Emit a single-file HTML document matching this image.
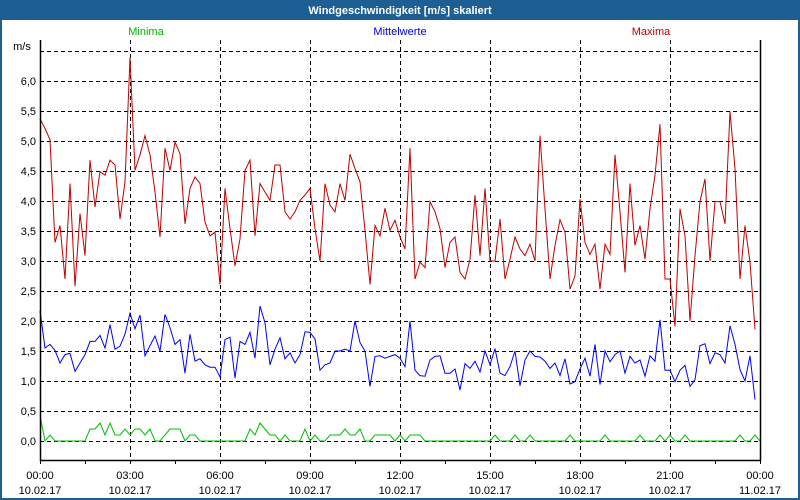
<!DOCTYPE html>
<html><head><meta charset="utf-8"><style>
body{margin:0;background:#fff}
svg{display:block;font-family:"Liberation Sans","DejaVu Sans",sans-serif}
</style></head><body>
<svg id="chart" width="800" height="500" viewBox="0 0 800 500">
<rect x="0" y="0" width="800" height="500" fill="#fff"/>
<rect x="0" y="0" width="800" height="20" fill="#1d5e93"/>
<rect x="1" y="1" width="798" height="498" fill="none" stroke="#1d5e93" stroke-width="2"/>
<text x="400" y="14" text-anchor="middle" fill="#fff" font-size="11" font-weight="bold">Windgeschwindigkeit [m/s] skaliert</text>
<text x="146" y="35" text-anchor="middle" fill="#00b000" font-size="11">Minima</text>
<text x="400" y="35" text-anchor="middle" fill="#0000e0" font-size="11">Mittelwerte</text>
<text x="651" y="35" text-anchor="middle" fill="#c00000" font-size="11">Maxima</text>
<text x="22" y="50" text-anchor="middle" fill="#000" font-size="11">m/s</text>
<g id="grid"></g>
<g id="series"></g>
<g id="axes"></g>
</svg>
<script>
const yTicks=[0,0.5,1,1.5,2,2.5,3,3.5,4,4.5,5,5.5,6,6.5];
const yTickLabels=["0,0","0,5","1,0","1,5","2,0","2,5","3,0","3,5","4,0","4,5","5,0","5,5","6,0",""];
const xTickHours=[0,3,6,9,12,15,18,21,24];
const xTickTimes=["00:00","03:00","06:00","09:00","12:00","15:00","18:00","21:00","00:00"];
const xTickDates=["10.02.17","10.02.17","10.02.17","10.02.17","10.02.17","10.02.17","10.02.17","10.02.17","11.02.17"];
const stepMinutes=10;
const maxima=[5.37,5.21,5.02,3.31,3.59,2.70,4.29,2.58,3.79,3.09,4.68,3.90,4.49,4.43,4.68,4.60,3.70,4.32,6.39,4.51,4.77,5.09,4.77,4.15,3.40,4.88,4.51,4.98,4.79,3.62,4.21,4.40,4.29,3.65,3.42,3.48,2.61,
4.21,3.54,2.92,3.37,4.51,4.68,3.42,4.29,4.15,4.01,4.60,4.60,3.82,3.70,3.82,4.01,4.10,4.21,3.54,3.00,4.29,3.93,3.82,4.29,4.01,4.78,4.54,4.32,3.51,2.61,3.59,3.42,3.88,3.51,3.68,3.40,
3.20,4.88,2.70,2.98,2.89,3.99,3.82,3.54,2.89,3.31,3.40,2.81,2.70,3.03,4.10,3.09,4.21,3.00,3.00,3.70,2.70,3.03,3.40,3.20,3.09,3.28,3.00,5.09,3.87,2.70,3.26,3.69,3.48,2.53,2.75,4.03,
3.31,3.11,3.28,2.53,3.28,3.11,4.77,3.82,2.81,4.29,3.26,3.59,3.03,3.87,4.43,5.28,2.70,2.70,1.91,3.87,3.42,2.00,3.09,3.99,4.37,3.00,3.99,3.99,3.62,5.49,4.54,2.70,3.59,2.98,1.86];
const mittel=[2.17,1.55,1.61,1.51,1.30,1.44,1.46,1.16,1.30,1.44,1.66,1.66,1.76,1.55,1.94,1.53,1.58,1.78,2.13,1.87,2.10,1.42,1.59,1.75,1.50,2.11,1.89,1.61,1.69,1.13,1.78,1.33,1.37,1.27,1.23,1.23,1.07,
1.69,1.73,1.05,1.66,1.61,1.81,1.38,2.25,1.97,1.27,1.53,1.72,1.37,1.47,1.30,1.44,1.82,1.81,1.70,1.18,1.27,1.30,1.50,1.50,1.53,1.50,2.00,1.64,1.50,0.91,1.41,1.42,1.38,1.41,1.44,1.38,
1.24,2.00,1.18,1.09,1.08,1.35,1.41,1.42,1.13,1.13,1.20,0.85,1.29,1.21,1.33,1.15,1.50,1.27,1.54,1.13,1.09,1.24,1.50,0.92,1.35,1.50,1.41,1.40,1.33,1.21,1.30,1.09,1.37,0.95,0.99,1.20,
1.38,1.08,1.61,0.94,1.50,1.32,1.44,1.50,1.13,1.41,1.30,1.35,1.08,1.42,1.33,2.02,1.18,1.18,0.99,1.18,1.26,0.91,1.02,1.59,1.62,1.29,1.47,1.44,1.30,1.92,1.61,1.19,1.00,1.42,0.69];
const minima=[0.43,0,0.1,0,0,0,0,0,0,0,0.2,0.2,0.3,0.1,0.3,0.1,0.1,0.2,0.1,0.2,0.2,0.1,0.2,0,0,0.1,0.2,0.2,0.2,0,0.1,0.1,0,0,0,0,0,
0,0,0,0,0,0.2,0.1,0.3,0.2,0.1,0.1,0,0.1,0,0,0,0.2,0,0.1,0,0,0.1,0.1,0.1,0.2,0.1,0.1,0.2,0,0,0.1,0.1,0.1,0.1,0,0.1,
0,0.1,0.1,0.1,0,0,0,0,0,0,0,0,0,0,0,0,0,0,0.1,0,0,0,0.1,0,0,0.1,0,0,0,0,0,0,0,0.1,0,0,
0,0,0,0,0.1,0,0,0,0,0,0,0.1,0,0,0,0.1,0,0.1,0,0,0.1,0,0,0,0,0,0,0,0,0,0,0.1,0,0,0.1,0];
const NS="http://www.w3.org/2000/svg";
const L=40,R=760,T=40,B=460;
function yPx(v){return 441-v*60;}
function xPx(min){return L+min/1440*(R-L);}
function mk(tag,attrs,parent){const e=document.createElementNS(NS,tag);for(const k in attrs)e.setAttribute(k,attrs[k]);parent.appendChild(e);return e;}
const grid=document.getElementById('grid'),axes=document.getElementById('axes'),ser=document.getElementById('series');
yTicks.forEach((v,i)=>{
  const ln=mk('line',{x1:L,x2:R,y1:yPx(v)+0.5,y2:yPx(v)+0.5,stroke:'#000','stroke-dasharray':'4,3','stroke-width':1},grid);
  
  
  if(yTickLabels[i]){
    const t=mk('text',{x:36,y:yPx(v)+4,'text-anchor':'end','font-size':11,fill:'#000'},axes);
    t.textContent=yTickLabels[i];
    
    
  }
});
xTickHours.forEach((h,i)=>{
  const x=xPx(h*60)+0.5;
  if(h>0&&h<24){
    const ln=mk('line',{x1:x,x2:x,y1:T,y2:B,stroke:'#000','stroke-dasharray':'4,3','stroke-width':1},grid);
    
    
  }
  const t1=mk('text',{x:xPx(h*60),y:479,'text-anchor':'middle','font-size':11,fill:'#000'},axes);
  t1.textContent=xTickTimes[i];
  
  
  const t2=mk('text',{x:xPx(h*60),y:494,'text-anchor':'middle','font-size':11,fill:'#000'},axes);
  t2.textContent=xTickDates[i];
  
  
});
for(let h=0;h<=24;h+=1.5){
  const x=xPx(h*60)+0.5;
  const tk=mk('line',{x1:x,x2:x,y1:B,y2:B+4,stroke:'#000'},axes);
  
  
}
function drawSeries(arr,color,name){
  const pts=arr.map((v,i)=>xPx(i*stepMinutes).toFixed(1)+','+yPx(v).toFixed(1)).join(' ');
  const p=mk('polyline',{points:pts,fill:'none',stroke:color,'stroke-width':1},ser);
  
  
}
drawSeries(minima,'#00c000','minima-line');
drawSeries(mittel,'#0000ff','mittelwerte-line');
drawSeries(maxima,'#c00000','maxima-line');
const ax=mk('path',{d:`M${L+0.5},${T} V${B+0.5} H${R+0.5} V${T}`,fill:'none',stroke:'#000','stroke-width':1.5},axes);


</script>
</body></html>
